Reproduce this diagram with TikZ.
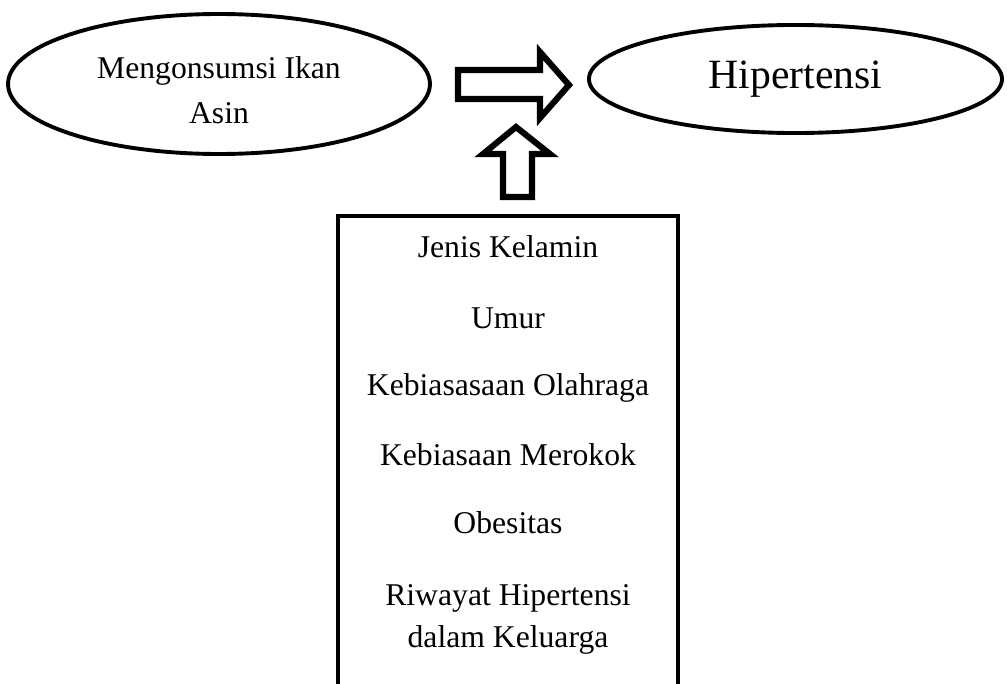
\documentclass[tikz,border=0pt]{standalone}
\usepackage{fontspec}
\setmainfont{Liberation Serif}
\usetikzlibrary{shapes.geometric}

\tikzset{
  oval/.style={draw,ellipse,line width=1.4pt,inner sep=0pt,align=center},
  faktor/.style={anchor=base,font=\fontsize{11.4}{15}\selectfont,align=center},
  blok/.style={draw,line width=2.2pt,line join=miter,fill=white}
}

\begin{document}
\begin{tikzpicture}[x=0.36pt,y=-0.36pt]
			\useasboundingbox (0,0) rectangle (1007,684);
			\node[oval,minimum width=151.9pt,minimum height=50.4pt] (ikan) at (219,84) {};
			\node[align=center,font=\fontsize{11.4}{16}\selectfont] (ikanteks) at (219,90) {Mengonsumsi Ikan\\Asin};
			\node[oval,minimum width=148.7pt,minimum height=38.9pt,font=\fontsize{15}{18}\selectfont] (hiper) at (795.5,79) {Hipertensi};
			\draw[blok] (458,70) -- (540,70) -- (540,52) -- (569,85) -- (540,118) -- (540,99) -- (458,99) -- cycle;
			\draw[blok] (503,197) -- (503,154) -- (483,154) -- (516,127) -- (550,154) -- (532,154) -- (532,197) -- cycle;
			\draw[line width=1.7pt,line join=miter] (338,690) |- (678,216) -- (678,690);
			\node[faktor] (jenis) at (508,258) {Jenis Kelamin};
			\node[faktor] (umur) at (508,328) {Umur};
			\node[faktor] (olah) at (508,395) {Kebiasasaan Olahraga};
			\node[faktor] (rokok) at (508,465) {Kebiasaan Merokok};
			\node[faktor] (obes) at (508,533) {Obesitas};
			\node[faktor] (riwayat) at (508,647) {Riwayat Hipertensi\\dalam Keluarga};
		\end{tikzpicture}
\end{document}
